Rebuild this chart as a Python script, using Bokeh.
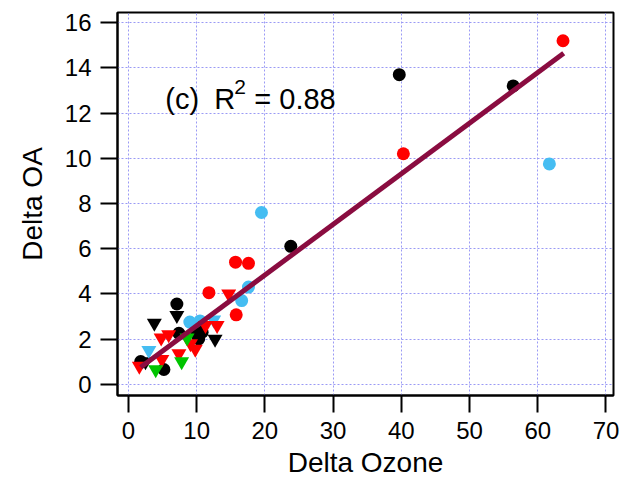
from bokeh.plotting import figure
from bokeh.models import Range1d, Label
from bokeh.embed import file_html
from bokeh.resources import INLINE

# ---- data ----
black_circ_x = [39.7, 56.4, 23.8, 7.1, 7.4, 10.0, 10.8, 10.3, 1.8, 5.2]
black_circ_y = [13.7, 13.2, 6.1, 3.55, 2.25, 2.2, 2.3, 2.0, 1.0, 0.65]
black_tri_x = [7.1, 3.8, 12.7, 2.5]
black_tri_y = [3.05, 2.7, 2.0, 1.0]

red_circ_x = [63.7, 40.3, 15.7, 17.6, 11.8, 15.8]
red_circ_y = [15.2, 10.2, 5.4, 5.35, 4.05, 3.07]
red_tri_x = [14.7, 11.3, 13.0, 4.8, 5.9, 9.8, 7.4, 4.9, 1.6, 9.1]
red_tri_y = [4.0, 2.6, 2.6, 2.05, 2.2, 1.55, 1.35, 1.1, 0.8, 1.8]

blue_circ_x = [61.7, 19.5, 17.6, 16.6, 9.0, 10.5]
blue_circ_y = [9.75, 7.6, 4.3, 3.7, 2.75, 2.8]
blue_tri_x = [3.0, 12.5]
blue_tri_y = [1.5, 2.85]

green_tri_x = [7.8, 4.0, 8.6]
green_tri_y = [1.0, 0.65, 2.05]

fit_x = [1.8, 63.8]
fit_y = [0.75, 14.65]

x_ticks = [0, 10, 20, 30, 40, 50, 60, 70]
y_ticks = [0, 2, 4, 6, 8, 10, 12, 14, 16]

FONT = "Liberation Sans"
BLACK = "#000000"
RED = "#FF0000"
BLUE = "#45BDF2"
GREEN = "#00C400"
FIT = "#8A0C40"

p = figure(width=627, height=485, output_backend="svg", toolbar_location=None,
           x_range=Range1d(-1.6, 71.1), y_range=Range1d(-0.5, 16.45),
           min_border_left=117, min_border_right=14, min_border_top=12,
           min_border_bottom=90)
p.background_fill_color = "white"
p.border_fill_color = "white"
p.outline_line_color = "black"
p.outline_line_width = 2

p.xaxis.ticker = x_ticks
p.yaxis.ticker = y_ticks
for ax in (p.xaxis[0], p.yaxis[0]):
    ax.axis_line_color = "black"
    ax.axis_line_width = 2
    ax.major_tick_line_color = "black"
    ax.major_tick_line_width = 2
    ax.major_tick_out = 17
    ax.major_tick_in = 0
    ax.minor_tick_line_color = None
    ax.major_label_text_font = FONT
    ax.major_label_text_font_size = "24px"
    ax.major_label_text_color = "black"
    ax.major_label_standoff = 9
    ax.axis_label_text_font = FONT
    ax.axis_label_text_font_size = "28px"
    ax.axis_label_text_font_style = "normal"
    ax.axis_label_text_color = "black"
p.xaxis.axis_label = "Delta Ozone"
p.yaxis.axis_label = "Delta OA"
p.xaxis.axis_label_standoff = 5
p.yaxis.axis_label_standoff = 14
p.yaxis.major_label_orientation = "horizontal"

for g in (p.xgrid[0], p.ygrid[0]):
    g.grid_line_color = "#9A9AF5"
    g.grid_line_dash = "2 2"
    g.grid_line_width = 1

S_C = 13
S_T = 15
p.scatter(blue_circ_x, blue_circ_y, marker="circle", size=S_C, fill_color=BLUE, line_color=None)
p.scatter(black_circ_x, black_circ_y, marker="circle", size=S_C, fill_color=BLACK, line_color=None)
p.scatter(black_tri_x, black_tri_y, marker="inverted_triangle", size=S_T, fill_color=BLACK, line_color=None)
p.scatter(blue_tri_x, blue_tri_y, marker="inverted_triangle", size=S_T, fill_color=BLUE, line_color=None)
p.scatter(red_circ_x, red_circ_y, marker="circle", size=S_C, fill_color=RED, line_color=None)
p.scatter(red_tri_x, red_tri_y, marker="inverted_triangle", size=S_T, fill_color=RED, line_color=None)
p.scatter(green_tri_x, green_tri_y, marker="inverted_triangle", size=S_T, fill_color=GREEN, line_color=None)

p.line(fit_x, fit_y, line_color=FIT, line_width=5)

ax0, ay0 = 5.4, 12.6
for txt, dx, dy, fs in [("(c)", 0, 0, "29px"), ("R", 49, 0, "29px"),
                        ("2", 69, 12, "21px"), ("= 0.88", 89, 0, "29px")]:
    p.add_layout(Label(x=ax0, y=ay0, x_offset=dx, y_offset=dy, text=txt,
                       text_font=FONT, text_font_size=fs, text_color="black",
                       text_baseline="alphabetic", text_align="left"))

open("out.html", "w").write(file_html(p, INLINE))
